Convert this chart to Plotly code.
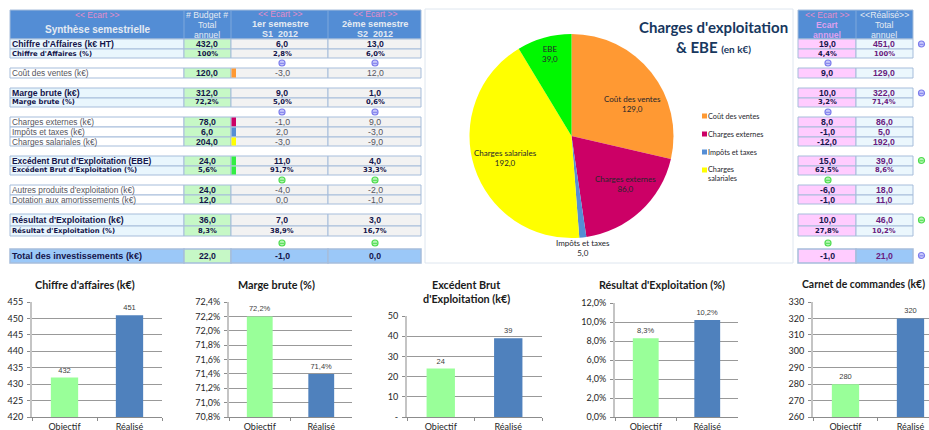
import plotly.graph_objects as go

W, H = 929, 430

# ---------- data ----------
ROW_LABELS = ["Chiffre d'Affaires (k€ HT)", "Chiffre d'Affaires (%)", "Coût des ventes (k€)", "Marge brute (k€)",
              "Marge brute (%)", "Charges externes (k€)", "Impôts et taxes (k€)", "Charges salariales (k€)",
              "Excédent Brut d'Exploitation (EBE)", "Excédent Brut d'Exploitation (%)",
              "Autres produits d'exploitation (k€)", "Dotation aux amortissements (k€)",
              "Résultat d'Exploitation (k€)", "Résultat d'Exploitation (%)", "Total des investissements (k€)"]
BUDGET = ["432,0", "100%", "120,0", "312,0", "72,2%", "78,0", "6,0", "204,0", "24,0", "5,6%", "24,0", "12,0", "36,0", "8,3%", "22,0"]
S1 = ["6,0", "2,8%", "-3,0", "9,0", "5,0%", "-1,0", "2,0", "-3,0", "11,0", "91,7%", "-4,0", "0,0", "7,0", "38,9%", "-1,0"]
S2 = ["13,0", "6,0%", "12,0", "1,0", "0,6%", "9,0", "-3,0", "-9,0", "4,0", "33,3%", "-2,0", "-1,0", "3,0", "16,7%", "0,0"]
ECART = ["19,0", "4,4%", "9,0", "10,0", "3,2%", "8,0", "-1,0", "-12,0", "15,0", "62,5%", "-6,0", "-1,0", "10,0", "27,8%", "-1,0"]
REALISE = ["451,0", "100%", "129,0", "322,0", "71,4%", "86,0", "5,0", "192,0", "39,0", "8,6%", "18,0", "11,0", "46,0", "10,2%", "21,0"]

PIE_LABELS = ["Coût des ventes", "Charges externes", "Impôts et taxes", "Charges salariales", "EBE"]
PIE_VALUES = [129, 86, 5, 192, 39]

CATS = ["Objectif", "Réalisé"]
CA_VALUES = [432, 451]
MB_VALUES = [72.2, 71.4]
EBE_VALUES = [24, 39]
REX_VALUES = [0.083, 0.102]
CARNET_VALUES = [280, 320]

# ---------- styling / placement ----------
ROW_TOPS = [39, 49, 68, 88, 98, 117, 127, 137, 156, 166, 185, 195, 214, 226, 249]
ROW_BOTS = [49, 58, 78, 98, 107, 127, 137, 146, 166, 175, 195, 204, 226, 236, 263]
ROW_KIND = ["b", "s", "n", "b", "s", "n", "n", "n", "b", "s", "n", "n", "b", "s", "t"]
SWATCH = {2: "#FF9933", 5: "#CC0066", 6: "#558ED5", 7: "#FFFF00", 8: "#33EE44", 9: "#33EE44"}
PIE_COLORS = ["#FF9933", "#CC0066", "#558ED5", "#FFFF00", "#00F800"]
HEAD = "#538DD5"
BORDER = "#A6BDDB"
NAVY = "#14144A"
GREY = "#555560"
PURPLE = "#6A1B7E"
HEADTXT = "#E4EAF2"
PINKTXT = "#E58CC8"
VIOLET = "#DDA0EE"
BLUE_I = ("#C9C9FB", "#7C7CEC")
GREEN_I = ("#B6F5B6", "#4EDC4E")

shapes, ann = [], []


def px(x):
    return x / W


def py(y):
    return 1 - y / H


def rect(x0, y0, x1, y1, fill, line=BORDER, lw=1):
    shapes.append(dict(type="rect", xref="paper", yref="paper", x0=px(x0), x1=px(x1), y0=py(y0), y1=py(y1),
                       fillcolor=fill, line=dict(color=line, width=lw), layer="below"))


def txt(x, y, s, size=8.5, color=GREY, font="Liberation Sans", bold=False, anchor="center"):
    if bold:
        s = "<b>" + s + "</b>"
    ann.append(dict(xref="paper", yref="paper", x=px(x), y=py(y), text=s, showarrow=False, xanchor=anchor,
                    yanchor="middle", font=dict(size=size, color=color, family=font), borderpad=0, borderwidth=0))


def icon(x, y, colors):
    fill, stroke = colors
    shapes.append(dict(type="circle", xref="paper", yref="paper", x0=px(x - 3), x1=px(x + 3), y0=py(y - 3), y1=py(y + 3),
                       fillcolor=fill, line=dict(color=stroke, width=1.2), layer="above"))
    shapes.append(dict(type="line", xref="paper", yref="paper", x0=px(x - 2), x1=px(x + 2), y0=py(y + 0.3), y1=py(y + 0.3),
                       line=dict(color=stroke, width=1), layer="above"))


# pie panel
rect(425, 9, 793, 263, "#FFFFFF", "#DEE6EF", 1)

# headers
rect(10, 10, 421, 39, HEAD, BORDER)
rect(798, 10, 913, 39, HEAD, BORDER)
for x in (184, 231, 328):
    shapes.append(dict(type="line", xref="paper", yref="paper", x0=px(x), x1=px(x), y0=py(10), y1=py(39),
                       line=dict(color="#7FA8DC", width=1), layer="below"))
shapes.append(dict(type="line", xref="paper", yref="paper", x0=px(856), x1=px(856), y0=py(10), y1=py(39),
                   line=dict(color="#7FA8DC", width=1), layer="below"))
E = "&lt;&lt; Ecart &gt;&gt;"
txt(97, 15, E, 8.5, PINKTXT)
txt(97, 29.5, "Synthèse semestrielle", 10, HEADTXT, bold=True)
txt(207, 15, "# Budget #", 8.7, HEADTXT)
txt(207, 25, "Total", 8.7, HEADTXT)
txt(207, 35, "annuel", 8.7, HEADTXT)
txt(280, 14, E, 8.5, PINKTXT)
txt(280, 24, "1er semestre", 9.2, HEADTXT, bold=True)
txt(280, 34, "S1  2012", 9, HEADTXT, bold=True)
txt(375, 14, E, 8.5, PINKTXT)
txt(375, 24, "2ème semestre", 9.2, HEADTXT, bold=True)
txt(375, 34, "S2  2012", 9, HEADTXT, bold=True)
txt(827, 15, E, 8.5, PINKTXT)
txt(827, 25, "Ecart", 8.7, VIOLET, bold=True)
txt(827, 35, "annuel", 8.7, VIOLET, bold=True)
txt(884, 15, "&lt;&lt;Réalisé&gt;&gt;", 8.7, HEADTXT)
txt(884, 25, "Total", 8.7, HEADTXT)
txt(884, 35, "annuel", 8.7, HEADTXT)

# body rows
for i, label in enumerate(ROW_LABELS):
    t, b, k = ROW_TOPS[i], ROW_BOTS[i], ROW_KIND[i]
    mid = (t + b) / 2
    total = k == "t"
    lab_fill = "#9BC8F8" if total else ("#E9F6FD" if k in "bs" else "#FFFFFF")
    lw = 1.5 if total else 1
    rect(10, t, 184, b, lab_fill, BORDER, lw)
    rect(184, t, 231, b, "#C6F8C6", BORDER, lw)
    rect(231, t, 328, b, "#9BC8F8" if total else "#F2F2F2", BORDER, lw)
    rect(328, t, 421, b, "#9BC8F8" if total else "#F2F2F2", BORDER, lw)
    rect(798, t, 856, b, "#FFCCFF", BORDER, lw)
    rect(856, t, 913, b, "#9BC8F8" if total else "#EBF7FD", BORDER, lw)
    if i in SWATCH:
        rect(231.5, t + 0.5, 236, b - 0.5, SWATCH[i], SWATCH[i], 0)
    if k == "s":
        f, sz, col, bd = "DejaVu Sans", 6.8, NAVY, True
        lsz = 6.8
    elif k == "b":
        f, sz, col, bd = "Liberation Sans", 8.7, NAVY, True
        lsz = 8.4 if "EBE" in label else 8.7
    elif k == "t":
        f, sz, col, bd = "Liberation Sans", 8.7, NAVY, True
        lsz = 9
    else:
        f, sz, col, bd = "Liberation Sans", 8.7, GREY, False
        lsz = 8.3
    txt(12, mid, label, lsz, col, f, bd, "left")
    txt(207, mid, BUDGET[i], sz if k != "n" else 8.7, NAVY, f if k != "n" else "Liberation Sans", True)
    txt(282, mid, S1[i], sz, col, f, bd)
    txt(375, mid, S2[i], sz, col, f, bd)
    txt(827, mid, ECART[i], sz, NAVY, f if k == "s" else "Liberation Sans", True)
    txt(884, mid, REALISE[i], sz, PURPLE, f if k == "s" else "Liberation Sans", True)

# smiley marks
for y, c in [(63, BLUE_I), (112, BLUE_I), (180, GREEN_I), (243, GREEN_I)]:
    for x in (282, 375, 828):
        icon(x, y, c)
for y, c in [(44, BLUE_I), (93, BLUE_I), (160.5, GREEN_I), (220, GREEN_I), (255.5, BLUE_I)]:
    icon(921.5, y, c)

# pie captions
DARK = "#26262C"
LBL = "Lato"
pie_txt = [f"{v},0" for v in PIE_VALUES]
txt(632, 104, f"{PIE_LABELS[0]}<br>{pie_txt[0]}", 8, DARK, LBL)
txt(625, 183.5, f"{PIE_LABELS[1]}<br>{pie_txt[1]}", 8, DARK, LBL)
txt(583, 248, f"{PIE_LABELS[2]}<br>{pie_txt[2]}", 8, DARK, LBL)
txt(505, 157.5, f"{PIE_LABELS[3]}<br>{pie_txt[3]}", 8, DARK, LBL)
txt(550, 53.5, f"{PIE_LABELS[4]}<br>{pie_txt[4]}", 8, DARK, LBL)

txt(713, 27, "Charges d'exploitation", 15, "#17375E", LBL, True)
ann.append(dict(xref="paper", yref="paper", x=px(713), y=py(47), showarrow=False, xanchor="center", yanchor="middle",
                text="<b>&amp; EBE <span style='font-size:10px'>(en k€)</span></b>",
                font=dict(size=15, color="#17375E", family=LBL)))

# pie legend
LEG_Y = [116, 134, 152, 170]
for c, y in zip(PIE_COLORS[:4], LEG_Y):
    rect(702, y - 2.5, 707, y + 2.5, c, c, 0)
txt(708, 116, PIE_LABELS[0], 7.3, DARK, LBL, anchor="left")
txt(708, 134, PIE_LABELS[1], 7.3, DARK, LBL, anchor="left")
txt(708, 152, PIE_LABELS[2], 7.3, DARK, LBL, anchor="left")
txt(708, 169.5, "Charges", 7.3, DARK, LBL, anchor="left")
txt(708, 178.5, "salariales", 7.3, DARK, LBL, anchor="left")

# bar chart titles
for x, y, s, sz in [(85, 284, "Chiffre d'affaires (k€)", 10.8), (276, 284, "Marge brute (%)", 10.8),
                    (466, 284, "Excédent Brut", 10.8), (466, 298, "d'Exploitation (k€)", 10.8),
                    (662, 284, "Résultat d'Exploitation (%)", 10.8), (863, 284, "Carnet de commandes (k€)", 10.4)]:
    txt(x, y, s, sz, "#1A1A1A", LBL, True)

fig = go.Figure()
fig.add_trace(go.Pie(labels=PIE_LABELS, values=PIE_VALUES, sort=False, direction="clockwise", rotation=0,
                     marker=dict(colors=PIE_COLORS, line=dict(width=0)), textinfo="none", showlegend=False, hole=0,
                     domain=dict(x=[px(469.5), px(673.5)], y=[py(238), py(34)])))

PLOTS = [
    (CA_VALUES, 32, 162, 302, [420, 455], dict(dtick=5, tickformat="d"), "%{y}", [-0.5, 1.5]),
    (MB_VALUES, 229, 352, 302, [70.8, 72.4], dict(dtick=0.2, tickformat=".1f", ticksuffix="%"), "%{y:.1f}%", [-0.5, 1.5]),
    (EBE_VALUES, 407, 542, 316, [0, 50], dict(tickvals=[0, 10, 20, 30, 40, 50], ticktext=["-", "10", "20", "30", "40", "50"]), "%{y}", [-0.5, 1.5]),
    (REX_VALUES, 615, 738, 303, [0, 0.12], dict(dtick=0.02, tickformat=".1%"), "%{y:.1%}", [-0.5, 1.5]),
    (CARNET_VALUES, 813, 929, 302, [260, 330], dict(dtick=10, tickformat="d"), "%{y}", [-0.5, 1.285]),
]
axes = {}
for n, (vals, x0, x1, top, yr, yopt, tmpl, xr) in enumerate(PLOTS, 1):
    s = "" if n == 1 else str(n)
    fig.add_trace(go.Bar(x=CATS, y=vals, xaxis=f"x{s}", yaxis=f"y{s}", width=0.42, showlegend=False,
                         marker=dict(color=["#99FF99", "#4F81BD"], line=dict(width=0)),
                         texttemplate=tmpl, textposition="outside", cliponaxis=False,
                         textfont=dict(size=7.5, color="#404040", family="Liberation Sans")))
    axes[f"xaxis{s}"] = dict(domain=[px(x0), px(x1)], anchor=f"y{s}", type="category", range=xr, tickson="boundaries",
                             ticks="outside", ticklen=3, tickcolor="#8C8C8C", showline=True, linecolor="#8C8C8C",
                             showgrid=False, tickfont=dict(size=9, color="#262626", family="Lato"), fixedrange=True,
                             automargin=False, ticklabelstandoff=1)
    axes[f"yaxis{s}"] = dict(domain=[py(417), py(top)], anchor=f"x{s}", range=yr, ticks="outside", ticklen=3,
                             tickcolor="#8C8C8C", showline=True, linecolor="#C4C4C4", linewidth=2, gridcolor="#999999",
                             gridwidth=1, zeroline=False, ticklabelstandoff=2, fixedrange=True, automargin=False,
                             tickfont=dict(size=9, color="#262626", family="Lato"), **yopt)

fig.update_layout(width=W, height=H, margin=dict(l=0, r=0, t=0, b=0), paper_bgcolor="white", plot_bgcolor="white",
                  separators=", ", shapes=shapes, annotations=ann, showlegend=False, **axes)

fig.write_html("out.html", config=dict(displayModeBar=False), post_script="document.body.style.margin='0';")
